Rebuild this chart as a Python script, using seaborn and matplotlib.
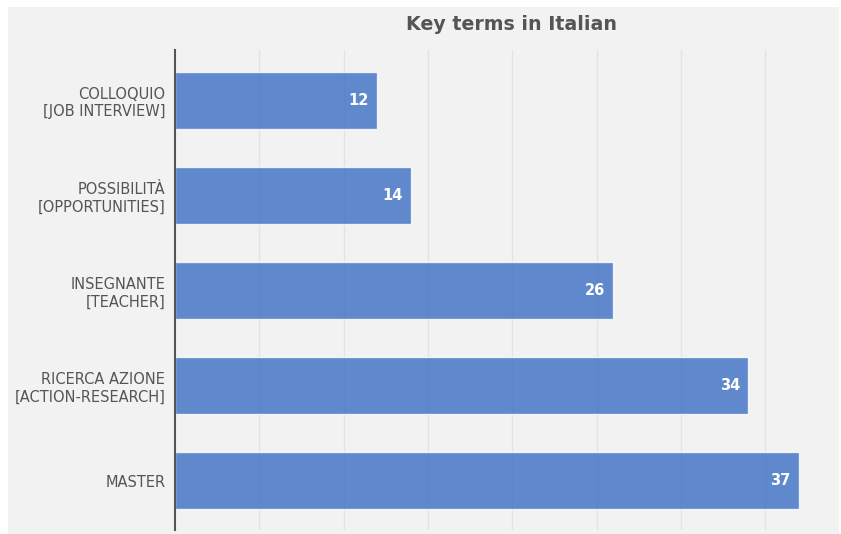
import matplotlib
matplotlib.use("Agg")
import matplotlib.pyplot as plt
from matplotlib.patches import Rectangle
import seaborn as sns
import pandas as pd

terms = [
    "COLLOQUIO\n[JOB INTERVIEW]",
    "POSSIBILITÀ\n[OPPORTUNITIES]",
    "INSEGNANTE\n[TEACHER]",
    "RICERCA AZIONE\n[ACTION-RESEARCH]",
    "MASTER",
]
counts = [12, 14, 26, 34, 37]

df = pd.DataFrame({"term": terms, "count": counts})

sns.set_theme(style="whitegrid")
plt.rcParams["font.family"] = ["DejaVu Sans"]

bg = "#f2f2f2"
text_col = "#555555"

fig = plt.figure(figsize=(8.41, 5.34), dpi=100, facecolor="white")
fig.patches.append(Rectangle((8 / 841, 0), 831 / 841, 527 / 534,
                             transform=fig.transFigure, facecolor=bg,
                             edgecolor="none", zorder=-10))
ax = fig.add_axes([175 / 841, 4 / 534, 666 / 841, 480 / 534])
ax.set_facecolor("none")

sns.barplot(data=df, x="count", y="term", color="#3b6fc4", alpha=0.8,
            width=0.6, ax=ax, saturation=1, zorder=1)

for container in ax.containers:
    ax.bar_label(container, labels=[str(v) for v in counts], padding=-6,
                 color="white", fontweight="bold", fontsize=10.5)
for t in ax.texts:
    t.set_horizontalalignment("right")

ax.set_xlim(0, 39.5)
ax.set_ylim(4.52, -0.53)
ax.set_xticks(range(5, 40, 5))
ax.set_xticklabels([])
ax.grid(axis="x", color="#e3e3e3", linewidth=1, zorder=0)
ax.grid(axis="y", visible=False)
ax.set_axisbelow(True)
ax.set_xlabel("")
ax.set_ylabel("")
ax.tick_params(axis="y", length=0, pad=7, labelsize=10.5, labelcolor=text_col)
ax.tick_params(axis="x", length=0)

for side in ["top", "right", "bottom"]:
    ax.spines[side].set_visible(False)
ax.spines["left"].set_color(text_col)
ax.spines["left"].set_linewidth(1.5)

fig.text(511 / 841, 1 - 24 / 534, "Key terms in Italian", ha="center",
         va="center", fontsize=13.7, fontweight="bold", color=text_col)

fig.savefig("out.png", dpi=100, facecolor=fig.get_facecolor())
